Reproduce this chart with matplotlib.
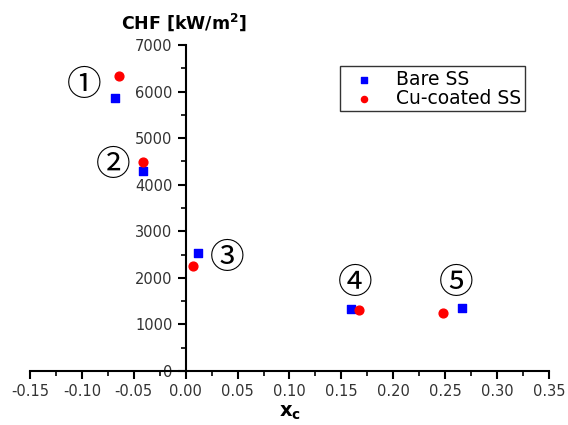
import matplotlib
matplotlib.use("Agg")
import matplotlib.pyplot as plt
from matplotlib.ticker import MultipleLocator

bare_x = [-0.068, -0.041, 0.012, 0.159, 0.266]
bare_y = [5870, 4300, 2530, 1330, 1360]
cu_x = [-0.064, -0.041, 0.007, 0.167, 0.248]
cu_y = [6340, 4490, 2260, 1310, 1250]
label_txt = ["①", "②", "③", "④", "⑤"]
label_x = [-0.098, -0.070, 0.040, 0.163, 0.261]
label_y = [6140, 4420, 2420, 1880, 1880]

plt.rcParams['font.family'] = ['DejaVu Sans']
fig = plt.figure(figsize=(5.68, 4.25), dpi=100)
ax = fig.add_axes([0.0528, 0.127, 0.9137, 0.767])
ax.set_xlim(-0.15, 0.35)
ax.set_ylim(0, 7000)

ax.scatter(bare_x, bare_y, marker='s', s=36, color='#0000ff', label='Bare SS', zorder=3)
ax.scatter(cu_x, cu_y, marker='o', s=40, color='#ff0000', label='Cu-coated SS', zorder=3)

for t, x, y in zip(label_txt, label_x, label_y):
    ax.text(x, y, t, fontsize=25, ha='center', va='center',
            family=['Noto Sans CJK KR', 'DejaVu Sans'], color='black')

ax.spines['right'].set_visible(False)
ax.spines['top'].set_visible(False)
ax.spines['left'].set_position(('data', 0))
ax.spines['bottom'].set_position(('data', 0))
for s in ['left', 'bottom']:
    ax.spines[s].set_linewidth(1.5)

ax.xaxis.set_major_locator(MultipleLocator(0.05))
ax.xaxis.set_minor_locator(MultipleLocator(0.025))
ax.yaxis.set_major_locator(MultipleLocator(1000))
ax.yaxis.set_minor_locator(MultipleLocator(500))
ax.tick_params(axis='both', which='major', length=6, width=1.5, direction='out',
               labelsize=10.5, labelcolor='#333333')
ax.tick_params(axis='both', which='minor', length=3.5, width=1.2, direction='out')
ax.set_xticks([-0.15, -0.10, -0.05, 0.0, 0.05, 0.10, 0.15, 0.20, 0.25, 0.30, 0.35])
ax.set_xticklabels(['-0.15', '-0.10', '-0.05', '0.00', '0.05', '0.10', '0.15',
                    '0.20', '0.25', '0.30', '0.35'])

ax.set_xlabel(r'$\mathbf{x_c}$', fontsize=14, labelpad=3)
fig.text(0.324, 0.948, 'CHF [kW/m$^\\mathbf{2}$]', fontsize=12.5, fontweight='bold',
         ha='center', va='center')

leg = ax.legend(loc='upper left', bbox_to_anchor=(0.597, 0.936), frameon=True,
                fancybox=False, edgecolor='black', fontsize=13.5, handletextpad=0.6,
                handlelength=2.2, borderpad=0.2, labelspacing=0.0, markerscale=0.7,
                borderaxespad=0)
leg.get_frame().set_linewidth(1.0)

fig.savefig('out.png', dpi=100)
